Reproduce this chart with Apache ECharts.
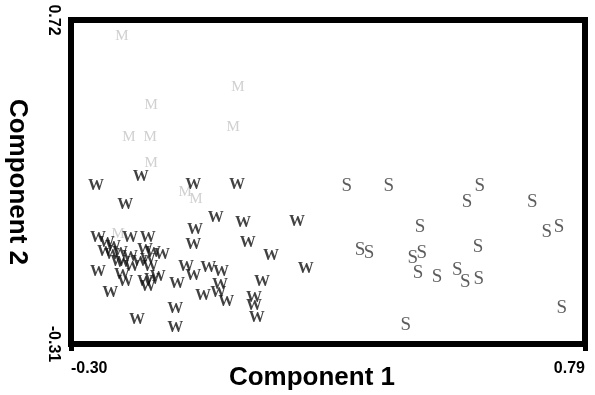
<!DOCTYPE html>
<html>
<head>
<meta charset="utf-8">
<script src="https://cdn.jsdelivr.net/npm/echarts@6/dist/echarts.min.js"></script>
<style>
  html, body { margin: 0; padding: 0; background: #fff; }
  #chart { width: 595px; height: 395px; }
</style>
</head>
<body>
<div id="chart"></div>
<script>
// 轴范围
const xRange = [-0.30, 0.79]
const yRange = [-0.31, 0.72]

// W 组 [component1, component2]
const wPoints = [
  [-0.247, 0.192], [-0.152, 0.221], [-0.041, 0.195], [0.052, 0.195], [-0.185, 0.132],
  [0.007, 0.091], [0.065, 0.075], [0.179, 0.078], [-0.037, 0.052], [-0.041, 0.005],
  [0.075, 0.011], [0.124, -0.030], [0.198, -0.072], [0.105, -0.113], [-0.075, -0.119],
  [-0.056, -0.065], [-0.041, -0.094], [-0.009, -0.068], [0.018, -0.081], [0.016, -0.122],
  [-0.020, -0.157], [0.012, -0.148], [0.029, -0.176], [0.088, -0.164], [0.088, -0.189],
  [0.094, -0.227], [-0.079, -0.199], [-0.079, -0.259], [-0.160, -0.234], [-0.217, -0.148],
  [-0.243, -0.081], [-0.243, 0.027], [-0.224, 0.011], [-0.211, -0.002], [-0.175, 0.027],
  [-0.137, 0.027], [-0.228, -0.018], [-0.213, -0.027], [-0.196, -0.021], [-0.175, -0.033],
  [-0.143, -0.011], [-0.126, -0.021], [-0.107, -0.027], [-0.190, -0.053], [-0.171, -0.065],
  [-0.137, -0.043], [-0.132, -0.065], [-0.192, -0.091], [-0.185, -0.113], [-0.143, -0.113],
  [-0.128, -0.107], [-0.116, -0.097], [-0.137, -0.129], [-0.200, -0.049], [-0.154, -0.049]
]

// S 组
const sPoints = [
  [0.285, 0.192], [0.374, 0.192], [0.567, 0.192], [0.540, 0.141], [0.678, 0.141],
  [0.440, 0.062], [0.709, 0.046], [0.735, 0.062], [0.313, -0.011], [0.332, -0.021],
  [0.563, -0.002], [0.425, -0.037], [0.444, -0.021], [0.436, -0.084], [0.476, -0.097],
  [0.519, -0.075], [0.536, -0.113], [0.565, -0.103], [0.741, -0.196], [0.410, -0.250]
]

// M 组（浅灰）
const mPoints = [
  [-0.192, 0.669], [0.054, 0.507], [-0.130, 0.450], [-0.177, 0.348], [-0.132, 0.348],
  [0.044, 0.380], [-0.130, 0.265], [-0.058, 0.173], [-0.035, 0.151], [-0.200, 0.040]
]

const axisFont = 'Liberation Sans, Arial, sans-serif'
const markFont = 'Liberation Serif, Times New Roman, serif'

// 文字散点
const textSeries = function (name, data, color, weight, size) {
  return {
    name: name,
    type: 'scatter',
    data: data,
    symbolSize: 1,
    itemStyle: { color: 'rgba(0,0,0,0)' },
    silent: true,
    label: {
      show: true,
      position: 'inside',
      formatter: name,
      color: color,
      fontFamily: markFont,
      fontWeight: weight,
      fontSize: size
    }
  }
}

let myChart = echarts.init(document.getElementById('chart'), null, { renderer: 'canvas' })
let option = {
  animation: false,
  backgroundColor: '#fff',
  grid: {
    left: 71, right: 10, top: 20, bottom: 51,
    containLabel: false,
    outerBoundsMode: 'none',
    show: true, borderColor: '#000', borderWidth: 6
  },
  xAxis: {
    type: 'value',
    min: xRange[0],
    max: xRange[1],
    interval: xRange[1] - xRange[0],
    splitLine: { show: false },
    axisLine: { onZero: false, lineStyle: { color: '#000', width: 6 } },
    axisTick: { show: true, length: 7, lineStyle: { color: '#000', width: 5 } },
    axisLabel: {
      margin: 17,
      formatter: v => v.toFixed(2),
      alignMinLabel: 'left',
      alignMaxLabel: 'right',
      color: '#000',
      fontFamily: axisFont,
      fontWeight: 'bold',
      fontSize: 16
    },
    name: 'Component 1',
    nameLocation: 'middle',
    nameGap: 21,
    nameMoveOverlap: false,
    nameTextStyle: {
      color: '#000',
      fontFamily: axisFont,
      fontWeight: 'bold',
      fontSize: 26,
      padding: [0, 32, 0, 0]
    }
  },
  yAxis: {
    type: 'value',
    min: yRange[0],
    max: yRange[1],
    interval: yRange[1] - yRange[0],
    splitLine: { show: false },
    axisLine: { onZero: false, lineStyle: { color: '#000', width: 6 } },
    axisTick: { show: false },
    axisLabel: {
      margin: 10,
      rotate: -90,
      formatter: v => v.toFixed(2),
      color: '#000',
      fontFamily: axisFont,
      fontWeight: 'bold',
      fontSize: 16
    },
    name: 'Component 2',
    nameLocation: 'middle',
    nameRotate: -90,
    nameGap: 41,
    nameMoveOverlap: false,
    nameTextStyle: {
      color: '#000',
      fontFamily: axisFont,
      fontWeight: 'bold',
      fontSize: 26
    }
  },
  series: [
    textSeries('M', mPoints, '#c4c4c4', 'normal', 15),
    textSeries('W', wPoints, '#111', 'bold', 16),
    textSeries('S', sPoints, '#333', 'normal', 19)
  ]
}
myChart.setOption(option)
</script>
</body>
</html>
